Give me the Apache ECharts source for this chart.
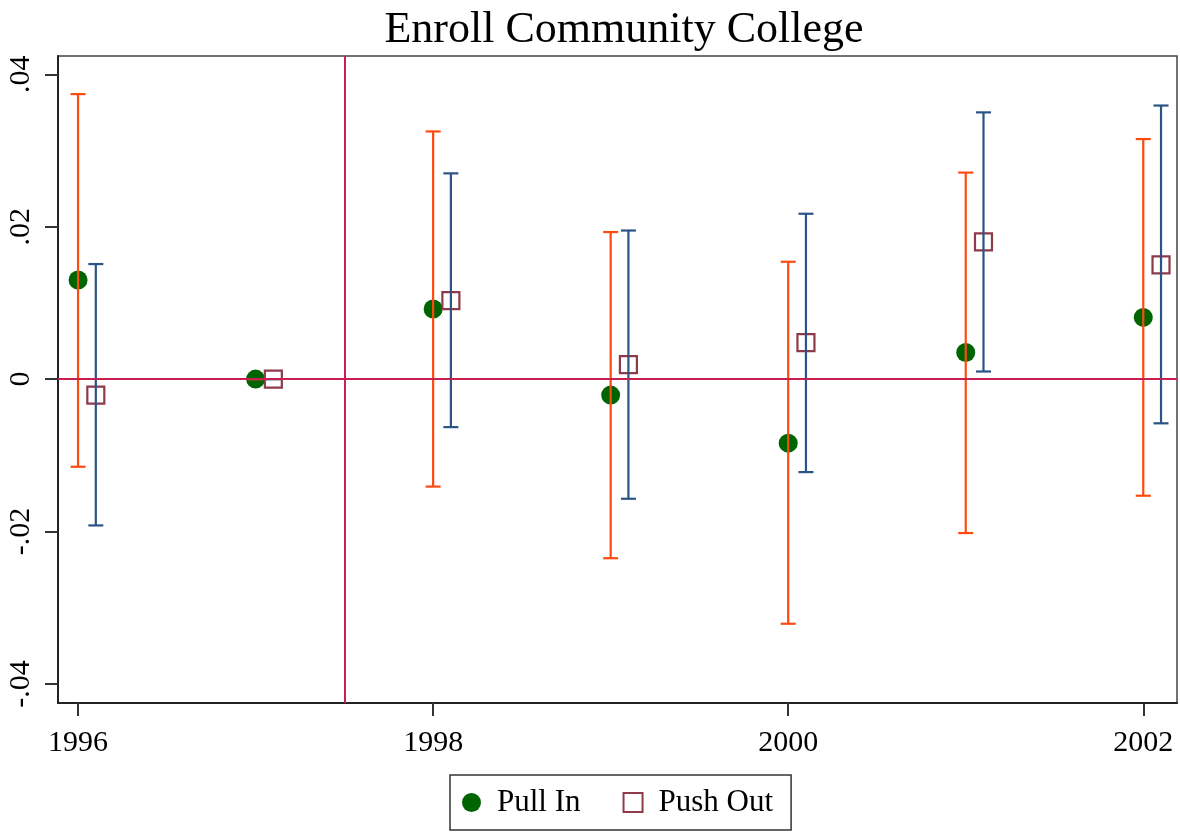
<!DOCTYPE html>
<html>
<head>
<meta charset="utf-8">
<script src="https://cdn.jsdelivr.net/npm/echarts@6/dist/echarts.min.js"></script>
<style>html,body{margin:0;padding:0;background:#fff}#c{width:1180px;height:834px}</style>
</head>
<body>
<div id="c"></div>
<script>
var years = [1996, 1997, 1998, 1999, 2000, 2001, 2002];
var pullIn   = [0.0130, 0, 0.0092, -0.0021, -0.0084, 0.0035, 0.0081];
var pullLo   = [-0.0115, 0, -0.0141, -0.0235, -0.0321, -0.0202, -0.0153];
var pullHi   = [0.0374, 0, 0.0325, 0.0193, 0.0154, 0.0271, 0.0315];
var pushOut  = [-0.0021, 0, 0.0103, 0.0019, 0.0048, 0.0180, 0.0150];
var pushLo   = [-0.0192, 0, -0.0063, -0.0157, -0.0122, 0.0010, -0.0058];
var pushHi   = [0.0151, 0, 0.0270, 0.0195, 0.0217, 0.0350, 0.0359];
var pushShift = 0.1;
var xTicks = [1996, 1998, 2000, 2002];
var yTicks = [-0.04, -0.02, 0, 0.02, 0.04];
var yTickLabels = ['-.04', '-.02', '0', '.02', '.04'];
var vLineAt = 1997.5;

var FONT = '"Liberation Serif", "Times New Roman", serif';

function ciRender(color) {
  return function (params, api) {
    var x = api.value(0), lo = api.value(1), hi = api.value(2);
    var p1 = api.coord([x, lo]), p2 = api.coord([x, hi]);
    var cap = 7.5;
    var st = {stroke: color, lineWidth: 2.2};
    return {
      type: 'group',
      children: [
        {type: 'line', shape: {x1: p1[0], y1: p1[1], x2: p2[0], y2: p2[1]}, style: st},
        {type: 'line', shape: {x1: p1[0] - cap, y1: p1[1], x2: p1[0] + cap, y2: p1[1]}, style: st},
        {type: 'line', shape: {x1: p2[0] - cap, y1: p2[1], x2: p2[0] + cap, y2: p2[1]}, style: st}
      ]
    };
  };
}

var pullPts = years.map(function (y, i) { return [y, pullIn[i]]; });
var pushPts = years.map(function (y, i) { return [y + pushShift, pushOut[i]]; });
var pullCI = years.map(function (y, i) { return [y, pullLo[i], pullHi[i]]; });
var pushCI = years.map(function (y, i) { return [y + pushShift, pushLo[i], pushHi[i]]; });

var chart = echarts.init(document.getElementById('c'), null, {renderer: 'canvas'});
chart.setOption({
  animation: false,
  backgroundColor: '#fff',
  title: {
    text: 'Enroll Community College',
    left: 619, top: 3, textAlign: 'center',
    textStyle: {fontFamily: FONT, fontSize: 44, fontWeight: 'normal', color: '#000'}
  },
  legend: {
    left: 450, top: 775,
    padding: [12, 18, 12, 12],
    borderColor: '#333', borderWidth: 1.5,
    itemWidth: 19, itemHeight: 19, itemGap: 42,
    data: [
      {name: 'Pull In', icon: 'circle'},
      {name: 'Push Out'}
    ],
    textStyle: {fontFamily: FONT, fontSize: 31, color: '#000', padding: [0, 0, 0, 11]}
  },
  grid: {left: 58, top: 56, right: 3, bottom: 131, show: true, borderColor: '#444', borderWidth: 1.5},
  xAxis: {
    type: 'value', min: 1995.887, max: 2002.19,
    splitLine: {show: false},
    axisLine: {show: true, onZero: false, lineStyle: {color: '#222', width: 2}},
    axisTick: {show: true, length: 13, lineStyle: {color: '#333', width: 2}, customValues: xTicks},
    axisLabel: {fontFamily: FONT, fontSize: 30, color: '#000', margin: 25, customValues: xTicks,
      formatter: function (v) { return String(Math.round(v)); }}
  },
  yAxis: {
    type: 'value', min: -0.0425, max: 0.0424,
    splitLine: {show: false},
    axisLine: {show: true, onZero: false, lineStyle: {color: '#222', width: 2}},
    axisTick: {show: true, length: 13, lineStyle: {color: '#333', width: 2}, customValues: yTicks},
    axisLabel: {fontFamily: FONT, fontSize: 30, color: '#000', margin: 22, rotate: 90, customValues: yTicks,
      formatter: function (v) {
        for (var i = 0; i < yTicks.length; i++) { if (Math.abs(v - yTicks[i]) < 1e-9) return yTickLabels[i]; }
        return '';
      }}
  },
  series: [
    {
      name: 'ref', type: 'line', data: [], z: 1, silent: true,
      markLine: {
        symbol: 'none', silent: true, label: {show: false},
        lineStyle: {color: '#C91E50', width: 2, type: 'solid'},
        data: [{yAxis: 0}, {xAxis: vLineAt}]
      }
    },
    {
      name: 'Pull In', type: 'scatter', data: pullPts, symbol: 'circle', symbolSize: 19, z: 3,
      itemStyle: {color: '#006400', opacity: 1}
    },
    {
      name: 'Push Out', type: 'scatter', data: pushPts, symbol: 'rect', symbolSize: 17, z: 3,
      itemStyle: {color: '#ffffff', borderColor: '#8E3A48', borderWidth: 2.2, opacity: 1}
    },
    {
      name: 'ciPull', type: 'custom', data: pullCI, renderItem: ciRender('#FF4A0F'), z: 4,
      encode: {x: 0, y: [1, 2]}
    },
    {
      name: 'ciPush', type: 'custom', data: pushCI, renderItem: ciRender('#2A5386'), z: 4,
      encode: {x: 0, y: [1, 2]}
    }
  ]
});
</script>
</body>
</html>
